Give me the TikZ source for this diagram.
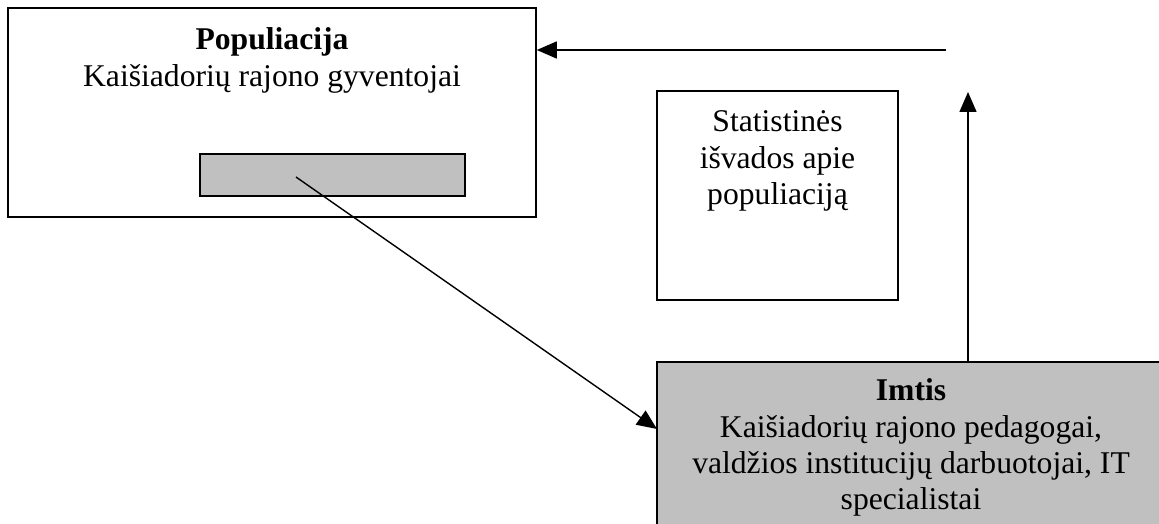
\documentclass[tikz,border=0pt]{standalone}
\usepackage{fontspec}
\setmainfont{Liberation Serif}
\usetikzlibrary{arrows.meta, positioning}
\definecolor{cshade}{HTML}{C0C0C0}
\tikzset{
  every picture/.style={line width=0.8pt},
  box/.style={draw=black, fill=#1, line width=0.9pt, inner sep=0pt},
  box/.default=white,
  txt/.style={font=\fontsize{18pt}{20.7pt}\selectfont, align=center, inner sep=0pt, anchor=north},
  arrow/.style={-{Triangle[length=0.4cm, width=0.34cm]}, draw=black, line width=0.8pt},
}

\begin{document}
\begin{tikzpicture}
  \useasboundingbox (0,0) rectangle (23.18,-10.48);
  \node[box, minimum width=10.56cm, minimum height=4.18cm] (pop) at (5.44,-2.25) {};
  \node[txt, below=0.4cm of pop.north] (poptxt) {\textbf{Populiacija}\\Kaišiadorių rajono gyventojai};
  \node[box=cshade, minimum width=5.3cm, minimum height=0.84cm] (part) at (6.65,-3.5) {};
  \node[box, minimum width=4.82cm, minimum height=4.18cm] (stat) at (15.55,-3.91) {};
  \node[txt, below=0.4cm of stat.north] (stattxt) {Statistinės\\išvados apie\\populiaciją};
  \node[box=cshade, minimum width=10.16cm, minimum height=3.36cm] (imtis) at (18.22,-8.92) {};
  \node[txt, below=0.34cm of imtis.north] (imtistxt) {\textbf{Imtis}\\Kaišiadorių rajono pedagogai,\\valdžios institucijų darbuotojai, IT\\specialistai};
  % free ends of the connectors
  \coordinate (src) at (5.92,-3.54);
  \coordinate (dst) at (13.14,-8.58);
  \coordinate (up) at (19.36,-1.84);
  \coordinate (back) at (18.92,-1.0);
  \draw[arrow] (src) -- (dst);
  \draw[arrow] (up |- imtis.north) -- (up);
  \draw[arrow] (back) -- (back -| pop.east);
\end{tikzpicture}
\end{document}
